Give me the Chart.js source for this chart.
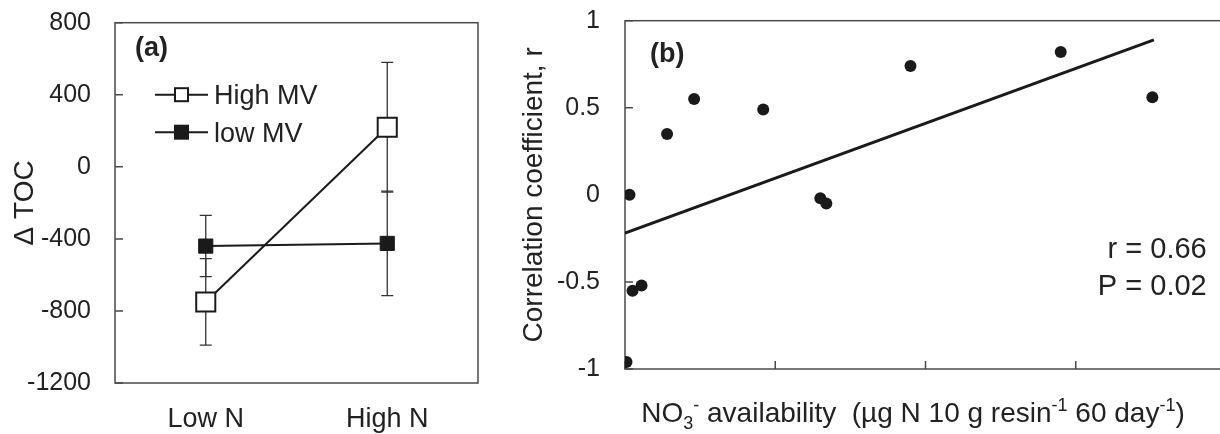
<!DOCTYPE html>
<html>
<head>
<meta charset="utf-8">
<script src="https://cdn.jsdelivr.net/npm/chart.js@4.4.0/dist/chart.umd.min.js"></script>
<style>
  html, body { margin: 0; padding: 0; background: #fff; overflow: hidden; }
  #chartA { position: absolute; left: 0; top: 0; }
  #chartB { position: absolute; left: 500px; top: 0; }
</style>
</head>
<body>
<canvas id="chartA" width="500" height="434"></canvas>
<canvas id="chartB" width="740" height="434"></canvas>
<script>
// panel (a): change in TOC by N level
const nLevels = ['Low N', 'High N']
const highMV = [-750, 220]
const highMVErr = [240, 360]
const lowMV = [-440, -425]
const lowMVErr = [170, 290]
const tocTicks = [-1200, -800, -400, 0, 400, 800]

// panel (b): correlation vs NO3- availability
const no3 = [0.3, 0.1, 0.5, 1.1, 2.8, 4.6, 9.2, 13.0, 13.4, 19.0, 29.0, 35.1]
const corrR = [0.0, -0.96, -0.55, -0.52, 0.35, 0.55, 0.49, -0.02, -0.05, 0.74, 0.82, 0.56]
const fitX = [0, 35.2]
const fitY = [-0.22, 0.89]
const corrTicks = [-1, -0.5, 0, 0.5, 1]
const no3Ticks = [0, 10, 20, 30, 40]
const statText = ['r = 0.66', 'P = 0.02']

const FONT = '"Liberation Sans", Arial, sans-serif'
const INK = '#1a1a1a'
const TEXT = '#222222'
const FRAME = '#4a4a4a'

Chart.defaults.font.family = FONT
Chart.defaults.color = TEXT

// fixed axis width, and no extra top/bottom padding from the tick labels
const fixWidth = w => s => {
    s.width = w
    s.paddingTop = 0
    s.paddingBottom = 0
}

// box round the plot plus inward tick marks
const frame = {
    id: 'frame',
    beforeDatasetsDraw(chart, args, opts) {
        const { ctx, chartArea: a, scales } = chart
        ctx.save()
        ctx.strokeStyle = FRAME
        ctx.lineWidth = 1.5
        ctx.strokeRect(a.left, a.top, a.right - a.left, a.bottom - a.top)
        ctx.beginPath()
        scales.y.ticks.forEach(t => {
            const py = scales.y.getPixelForValue(t.value)
            ctx.moveTo(a.left, py)
            ctx.lineTo(a.left + 8, py)
        })
        if (opts.xTicks) {
            scales.x.ticks.forEach(t => {
                const px = scales.x.getPixelForValue(t.value)
                ctx.moveTo(px, a.bottom)
                ctx.lineTo(px, a.bottom - 8)
            })
        }
        ctx.stroke()
        ctx.restore()
    }
}

const errorBars = {
    id: 'errorBars',
    beforeDatasetsDraw(chart) {
        const { ctx, scales: { y } } = chart
        ctx.save()
        ctx.strokeStyle = '#333'
        ctx.lineWidth = 1.3
        chart.data.datasets.forEach((ds, i) => {
            chart.getDatasetMeta(i).data.forEach((pt, j) => {
                const top = y.getPixelForValue(ds.data[j] + ds.errors[j])
                const bot = y.getPixelForValue(ds.data[j] - ds.errors[j])
                ctx.beginPath()
                ctx.moveTo(pt.x, top); ctx.lineTo(pt.x, bot)
                ctx.moveTo(pt.x - 6, top); ctx.lineTo(pt.x + 6, top)
                ctx.moveTo(pt.x - 6, bot); ctx.lineTo(pt.x + 6, bot)
                ctx.stroke()
            })
        })
        ctx.restore()
    }
}

const legendA = {
    id: 'legendA',
    afterDraw(chart) {
        const { ctx, chartArea: a } = chart
        ctx.save()
        chart.data.datasets.forEach((ds, i) => {
            const y = a.top + 72 + i * 37.5
            const x0 = a.left + 40, x1 = a.left + 93, cx = (x0 + x1) / 2
            ctx.strokeStyle = INK
            ctx.lineWidth = 2
            ctx.beginPath()
            ctx.moveTo(x0, y); ctx.lineTo(x1, y)
            ctx.stroke()
            ctx.fillStyle = ds.pointBackgroundColor
            ctx.fillRect(cx - 6.5, y - 6.5, 13, 13)
            ctx.strokeRect(cx - 6.5, y - 6.5, 13, 13)
            ctx.fillStyle = TEXT
            ctx.font = '27px ' + FONT
            ctx.textBaseline = 'alphabetic'
            ctx.fillText(ds.label, a.left + 99, y + 9.5)
        })
        ctx.font = 'bold 27px ' + FONT
        ctx.fillText('(a)', a.left + 20, a.top + 33)
        ctx.restore()
    }
}

const notesB = {
    id: 'notesB',
    afterDraw(chart) {
        const { ctx, chartArea: a } = chart
        ctx.save()
        ctx.fillStyle = TEXT
        ctx.textBaseline = 'alphabetic'
        ctx.font = 'bold 27px ' + FONT
        ctx.fillText('(b)', a.left + 25, a.top + 41.6)
        ctx.font = '29px ' + FONT
        ctx.textAlign = 'right'
        ctx.fillText(statText[0], 706.7, 257.5)
        ctx.fillText(statText[1], 706.7, 295)
        // x title with sub/superscripts
        const parts = [
            ['NO', 0, 28], ['3', 7, 18], ['-', -11, 18],
            [' availability  (\u00b5g N 10 g resin', 0, 28], ['-1', -11, 18],
            [' 60 day', 0, 28], ['-1', -11, 18], [')', 0, 28]
        ]
        ctx.textAlign = 'left'
        let total = 0
        parts.forEach(p => { ctx.font = p[2] + 'px ' + FONT; total += ctx.measureText(p[0]).width })
        let x = 413 - total / 2
        parts.forEach(p => {
            ctx.font = p[2] + 'px ' + FONT
            ctx.fillText(p[0], x, 422 + p[1])
            x += ctx.measureText(p[0]).width
        })
        ctx.restore()
    }
}

new Chart(document.getElementById('chartA'), {
    type: 'line',
    data: {
        labels: nLevels,
        datasets: [
            {
                label: 'High MV',
                data: highMV,
                errors: highMVErr,
                borderColor: INK,
                borderWidth: 2,
                pointStyle: 'rect',
                pointRadius: 13.5,
                pointBackgroundColor: '#ffffff',
                pointBorderColor: INK,
                pointBorderWidth: 2,
                tension: 0
            },
            {
                label: 'low MV',
                data: lowMV,
                errors: lowMVErr,
                borderColor: INK,
                borderWidth: 2,
                pointStyle: 'rect',
                pointRadius: 10,
                pointBackgroundColor: INK,
                pointBorderColor: INK,
                pointBorderWidth: 1,
                tension: 0
            }
        ]
    },
    options: {
        responsive: false,
        animation: false,
        layout: { padding: { top: 22.7, right: 22, bottom: 0, left: 0 } },
        plugins: { legend: { display: false }, tooltip: { enabled: false }, frame: { xTicks: false } },
        scales: {
            x: {
                offset: true,
                grid: { display: false, drawTicks: false },
                border: { display: false },
                ticks: { font: { size: 27 }, color: TEXT, padding: 20 },
                afterFit: s => { s.height = 51 }
            },
            y: {
                min: -1200,
                max: 800,
                afterBuildTicks: s => { s.ticks = tocTicks.map(v => ({ value: v })) },
                grid: { display: false, drawTicks: false },
                border: { display: false },
                ticks: { font: { size: 25 }, color: TEXT, padding: 24, callback: v => String(v) },
                title: { display: true, text: '\u0394 TOC', font: { size: 28 }, color: TEXT, padding: { top: 8, bottom: 0 } },
                afterFit: fixWidth(115)
            }
        }
    },
    plugins: [frame, errorBars, legendA]
})

new Chart(document.getElementById('chartB'), {
    type: 'scatter',
    data: {
        datasets: [
            {
                label: 'r',
                data: no3.map((x, i) => ({ x: x, y: corrR[i] })),
                pointRadius: 6,
                pointBackgroundColor: INK,
                pointBorderColor: INK,
                pointBorderWidth: 0
            },
            {
                type: 'line',
                label: 'fit',
                data: fitX.map((x, i) => ({ x: x, y: fitY[i] })),
                borderColor: INK,
                borderWidth: 3,
                pointRadius: 0,
                tension: 0
            }
        ]
    },
    options: {
        responsive: false,
        animation: false,
        layout: { padding: { top: 20.7, right: 14, bottom: 0, left: 0 } },
        plugins: { legend: { display: false }, tooltip: { enabled: false }, frame: { xTicks: true } },
        scales: {
            x: {
                type: 'linear',
                min: 0,
                max: 40,
                afterBuildTicks: s => { s.ticks = no3Ticks.map(v => ({ value: v })) },
                grid: { display: false, drawTicks: false },
                border: { display: false },
                ticks: { display: false },
                afterFit: s => { s.height = 65 }
            },
            y: {
                min: -1,
                max: 1,
                afterBuildTicks: s => { s.ticks = corrTicks.map(v => ({ value: v })) },
                grid: { display: false, drawTicks: false },
                border: { display: false },
                ticks: { font: { size: 25 }, color: TEXT, padding: 25, callback: v => String(v) },
                title: { display: true, text: 'Correlation coefficient, r', font: { size: 28 }, color: TEXT, padding: { top: 17, bottom: 0 } },
                afterFit: fixWidth(125)
            }
        }
    },
    plugins: [frame, notesB]
})
</script>
</body>
</html>
